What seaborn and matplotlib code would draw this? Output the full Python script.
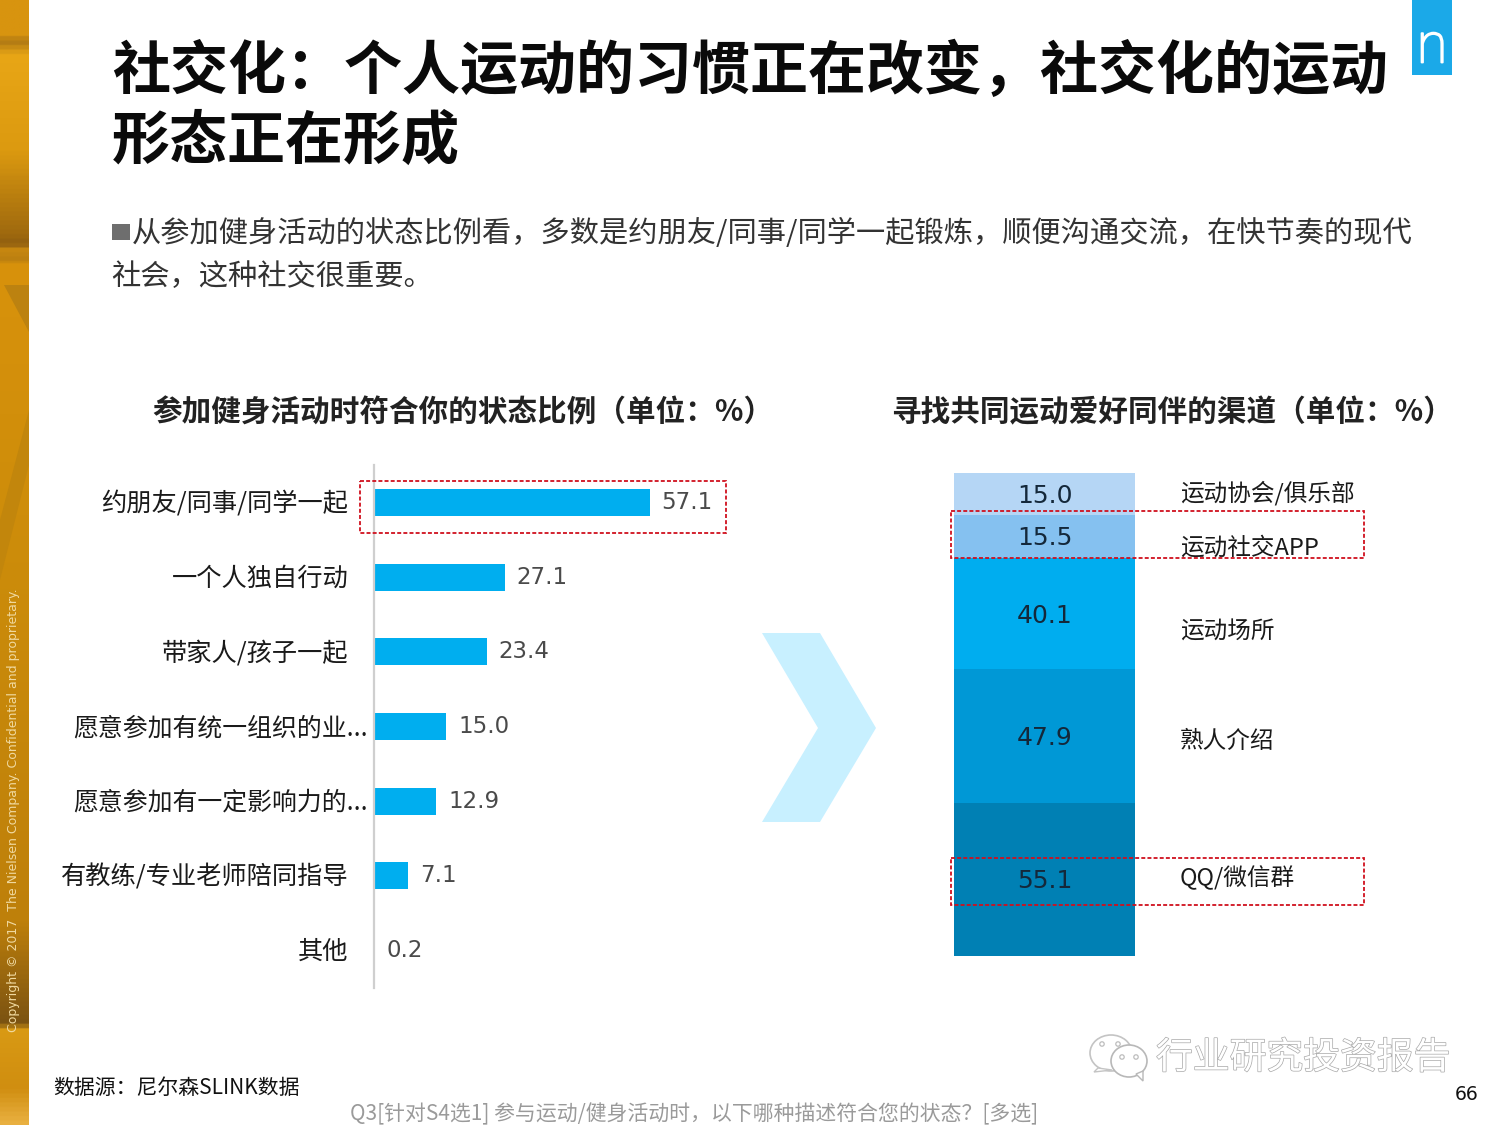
import numpy as np
import pandas as pd
import matplotlib
matplotlib.use("Agg")
import matplotlib.pyplot as plt
import matplotlib.patheffects as pe
from matplotlib.colors import LinearSegmentedColormap
from matplotlib.patches import Rectangle, Polygon, Ellipse, Circle
from matplotlib.transforms import ScaledTranslation
import seaborn as sns

sns.set_style("white")
CJK = ['Noto Sans CJK SC', 'DejaVu Sans']
plt.rcParams['font.family'] = CJK
plt.rcParams['axes.unicode_minus'] = False

# ---- data ----
state_labels = ["约朋友/同事/同学一起", "一个人独自行动", "带家人/孩子一起",
                "愿意参加有统一组织的业...", "愿意参加有一定影响力的...",
                "有教练/专业老师陪同指导", "其他"]
state_values = [57.1, 27.1, 23.4, 15.0, 12.9, 7.1, 0.2]
channel_labels = ["运动协会/俱乐部", "运动社交APP", "运动场所", "熟人介绍", "QQ/微信群"]
channel_values = [15.0, 15.5, 40.1, 47.9, 55.1]
channel_colors = ["#B5D6F5", "#85C1F0", "#00ADEF", "#0098D6", "#0080B4"]

title_lines = ["社交化\uff1a个人运动的习惯正在改变\uff0c社交化的运动", "形态正在形成"]
body_lines = ["从参加健身活动的状态比例看\uff0c多数是约朋友/同事/同学一起锻炼\uff0c顺便沟通交流\uff0c在快节奏的现代",
              "社会\uff0c这种社交很重要。"]
left_title = "参加健身活动时符合你的状态比例\uff08单位\uff1a%\uff09"
right_title = "寻找共同运动爱好同伴的渠道\uff08单位\uff1a%\uff09"
source_text = "数据源\uff1a尼尔森SLINK数据"
question_text = "Q3[针对S4选1] 参与运动/健身活动时\uff0c以下哪种描述符合您的状态\uff1f[多选]"

W, H = 1500, 1125
fig = plt.figure(figsize=(15, 11.25), dpi=100, facecolor="white")


def axes_px(x0, y0, x1, y1, **kw):
    return fig.add_axes([x0 / W, 1 - y1 / H, (x1 - x0) / W, (y1 - y0) / H], **kw)


# ---- background layer (pixel coordinates) ----
bg = fig.add_axes([0, 0, 1, 1], zorder=0)
bg.set_xlim(0, W)
bg.set_ylim(H, 0)
bg.axis("off")
gold = LinearSegmentedColormap.from_list("gold", [
    (0.00, "#D8940F"), (0.028, "#D8940F"), (0.034, "#AE7814"), (0.046, "#E8A616"),
    (0.13, "#DC9A10"), (0.205, "#A06A0E"), (0.215, "#8F5E10"), (0.218, "#C88810"),
    (0.228, "#BC8010"), (0.235, "#D8920C"), (0.50, "#CC8C0A"), (0.82, "#BE800A"),
    (0.912, "#7A5212"), (0.916, "#D99A14"), (0.97, "#D08E10"), (1.00, "#E9B040")])
bg.imshow(np.linspace(0, 1, 500).reshape(-1, 1), cmap=gold, aspect="auto",
          extent=(0, 29, H, 0), zorder=1)
bg.set_xlim(0, W)
bg.set_ylim(H, 0)
bg.add_patch(Polygon([(4, 285), (29, 285), (29, 332)], closed=True, fc="#BC8210", ec="none", zorder=1.5))
bg.add_patch(Polygon([(0, 520), (29, 410), (29, 465), (0, 580)], closed=True, fc="#C2860C", ec="none", zorder=1.5))
bg.add_patch(Polygon([(762, 633), (820, 633), (876, 728), (820, 822), (762, 822), (818, 728)],
                     closed=True, fc="#C8F0FF", ec="none", zorder=1))

# ---- left bar chart ----
ax = axes_px(374, 465, 724, 988, zorder=2)
ax.patch.set_alpha(0)
sns.barplot(x=state_values, y=state_labels, color="#00AEEF", width=0.36,
            saturation=1, ax=ax, orient="h", linewidth=0)
ax.set_xlim(0, 350 / 4.83)
ax.set_xlabel("")
ax.set_ylabel("")
ax.set_xticks([])
sns.despine(ax=ax, left=False, bottom=True, top=True, right=True)
ax.spines["left"].set_color("#CFCFCF")
ax.spines["left"].set_linewidth(1.6)
ax.tick_params(axis="y", length=0, pad=18.5, labelsize=18.2, labelcolor="#1a1a1a")
for lab in ax.get_yticklabels():
    long_label = lab.get_text().endswith("...")
    dx = 19 if long_label else 0
    if long_label:
        lab.set_fontsize(17.9)
    lab.set_transform(lab.get_transform() + ScaledTranslation(dx / 100, 1.5 / 100, fig.dpi_scale_trans))
val_labels = ax.bar_label(ax.containers[0], fmt="%.1f", padding=8.5, fontsize=16.5,
                          color="#4a4a4a", family="DejaVu Sans")
for t in val_labels:
    t.set_transform(t.get_transform() + ScaledTranslation(0, -2.5 / 100, fig.dpi_scale_trans))

# ---- right stacked bar ----
ax2 = axes_px(954, 473, 1135, 956, zorder=2)
ax2.patch.set_alpha(0)
bottoms = np.concatenate(([0], np.cumsum(channel_values)[:-1]))
for name, v, b, c in zip(channel_labels, channel_values, bottoms, channel_colors):
    sns.barplot(x=["渠道"], y=[v], bottom=b, color=c, width=1, saturation=1, ax=ax2, linewidth=0)
ax2.set_ylim(sum(channel_values), 0)
ax2.set_xlim(-0.5, 0.5)
for v, b in zip(channel_values, bottoms):
    t = ax2.text(0, b + v / 2, f"{v:.1f}", ha="center", va="center", fontsize=18,
                 color="#14283a", family="DejaVu Sans")
    t.set_transform(t.get_transform() + ScaledTranslation(0, -2 / 100, fig.dpi_scale_trans))
ax2.set_xticks([])
ax2.set_yticks([])
ax2.set_xlabel("")
ax2.set_ylabel("")
sns.despine(ax=ax2, left=True, bottom=True)

# ---- overlay (pixel coordinates) ----
ov = fig.add_axes([0, 0, 1, 1], zorder=3)
ov.set_xlim(0, W)
ov.set_ylim(H, 0)
ov.axis("off")
ov.patch.set_alpha(0)

# logo
ov.add_patch(Rectangle((1412, 0), 40, 75, fc="#1BA9E8", ec="none"))
ov.text(1432, 47, "n", color="white", fontsize=40, ha="center", va="center",
        family="Roboto", fontweight="light",
        path_effects=[pe.withStroke(linewidth=1.3, foreground="white")])

# titles
for s, y in zip(title_lines, (72, 142)):
    ov.text(112, y, s, fontsize=41.8, fontweight="bold", color="#0a0a0a", ha="left", va="center")
ov.add_patch(Rectangle((112, 224), 18, 16, fc="#6E6E6E", ec="none"))
ov.text(132, 234, body_lines[0], fontsize=21.05, color="#333333", ha="left", va="center")
ov.text(111, 277, body_lines[1], fontsize=21.05, color="#333333", ha="left", va="center")
ov.text(152, 413, left_title, fontsize=21.3, fontweight="bold", color="#222222", ha="left", va="center")
ov.text(891, 412, right_title, fontsize=21.3, fontweight="bold", color="#222222", ha="left", va="center")

# right side labels
for s, y in zip(channel_labels, (493, 548, 632, 741, 878)):
    ov.text(1180, y, s, fontsize=17, color="#1a1a1a", ha="left", va="center")

# red dashed boxes
for x0, y0, x1, y1 in [(360, 481, 726, 533), (951, 511, 1364, 558), (951, 858, 1364, 905)]:
    ov.add_patch(Rectangle((x0, y0), x1 - x0, y1 - y0, fc="none", ec="#D0101E",
                           lw=1.3, ls=(0, (2.2, 1.2))))

# footer
ov.text(53, 1088, source_text, fontsize=15, color="#111111", ha="left", va="center")
ov.text(350, 1114, question_text, fontsize=15, color="#9A9A9A", ha="left", va="center")
ov.text(1467, 1094, "66", fontsize=13.5, color="#111111", ha="center", va="center", family="DejaVu Sans")
ov.text(14, 810, "Copyright © 2017  The Nielsen Company. Confidential and proprietary.",
        rotation=90, fontsize=9, color="#F0D9A0", ha="center", va="center", family="DejaVu Sans")

# watermark
ov.text(1156, 1058, "行业研究投资报告", fontsize=26.5, color="white", ha="left", va="center",
        path_effects=[pe.withStroke(linewidth=1.0, foreground="#A8A8A8")])
ov.add_patch(Ellipse((1111, 1053), 42, 36, fc="white", ec="#C4C4C4", lw=1.2))
ov.add_patch(Polygon([(1098, 1068), (1094, 1072), (1112, 1070)], closed=True, fc="white", ec="#C4C4C4", lw=1))
ov.add_patch(Ellipse((1129, 1061), 36, 32, fc="white", ec="#B8B8B8", lw=1.2))
ov.add_patch(Polygon([(1136, 1074), (1143, 1081), (1143, 1071)], closed=True, fc="white", ec="#B8B8B8", lw=1))
for cx, cy in [(1102, 1044), (1118, 1044), (1122, 1057), (1136, 1057)]:
    ov.add_patch(Circle((cx, cy), 2.2, fc="white", ec="#BDBDBD", lw=0.9))

fig.savefig("out.png", dpi=100)
